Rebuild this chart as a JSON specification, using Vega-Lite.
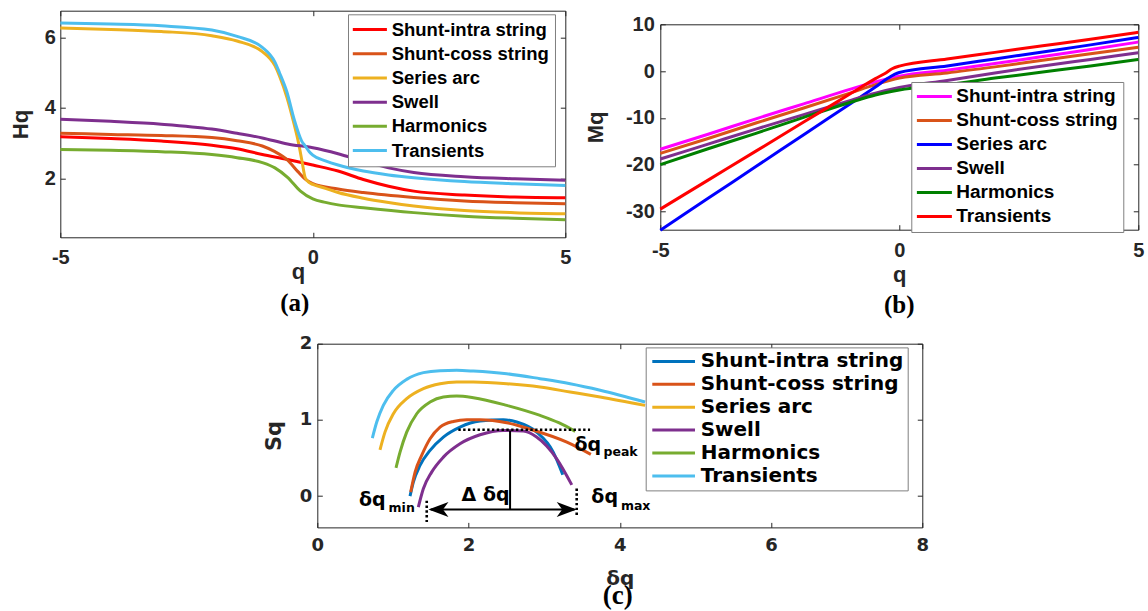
{
"$schema": "https://vega.github.io/schema/vega-lite/v6.json",
"background": "white",
"padding": {"left": 9.3, "top": 9.7, "right": 0, "bottom": 0},
"spacing": 14,
"resolve": {"scale": {"color": "independent", "shape": "independent"}, "legend": {"color": "independent"}},
"config": {
  "view": {"stroke": "#262626", "strokeWidth": 1},
  "axis": {"grid": false, "domain": false, "tickColor": "#262626", "tickSize": -5, "tickWidth": 1, "labelFlush": false, "labelOverlap": false, "labelColor": "#262626", "labelFont": "Liberation Sans", "labelFontWeight": "bold", "labelFontSize": 20, "titleColor": "#262626", "titleFont": "Liberation Sans", "titleFontWeight": "bold", "titleFontSize": 22},
  "legend": {"strokeColor": "#808080", "fillColor": "white", "labelColor": "black", "labelFontWeight": "bold", "symbolStrokeWidth": 3, "symbolSize": 100, "cornerRadius": 0, "labelLimit": 400},
  "title": {"font": "Liberation Serif", "fontWeight": "bold", "color": "black", "fontSize": 25, "baseline": "top"}
},
"datasets": {
  "a_data": [
    {"series":"Shunt-intra string","q":-5,"Hq":3.18},{"series":"Shunt-intra string","q":-4,"Hq":3.13},{"series":"Shunt-intra string","q":-3,"Hq":3.06},{"series":"Shunt-intra string","q":-2,"Hq":2.94},{"series":"Shunt-intra string","q":-1.5,"Hq":2.84},{"series":"Shunt-intra string","q":-1,"Hq":2.68},{"series":"Shunt-intra string","q":-0.5,"Hq":2.54},{"series":"Shunt-intra string","q":0,"Hq":2.38},{"series":"Shunt-intra string","q":0.5,"Hq":2.21},{"series":"Shunt-intra string","q":1,"Hq":1.97},{"series":"Shunt-intra string","q":1.5,"Hq":1.78},{"series":"Shunt-intra string","q":2,"Hq":1.64},{"series":"Shunt-intra string","q":3,"Hq":1.53},{"series":"Shunt-intra string","q":4,"Hq":1.47},{"series":"Shunt-intra string","q":5,"Hq":1.45},
    {"series":"Shunt-coss string","q":-5,"Hq":3.28},{"series":"Shunt-coss string","q":-4,"Hq":3.25},{"series":"Shunt-coss string","q":-3,"Hq":3.22},{"series":"Shunt-coss string","q":-2,"Hq":3.16},{"series":"Shunt-coss string","q":-1.5,"Hq":3.07},{"series":"Shunt-coss string","q":-1,"Hq":2.92},{"series":"Shunt-coss string","q":-0.75,"Hq":2.76},{"series":"Shunt-coss string","q":-0.5,"Hq":2.52},{"series":"Shunt-coss string","q":-0.3,"Hq":2.2},{"series":"Shunt-coss string","q":-0.15,"Hq":1.98},{"series":"Shunt-coss string","q":0,"Hq":1.85},{"series":"Shunt-coss string","q":0.5,"Hq":1.7},{"series":"Shunt-coss string","q":1,"Hq":1.6},{"series":"Shunt-coss string","q":2,"Hq":1.46},{"series":"Shunt-coss string","q":3,"Hq":1.36},{"series":"Shunt-coss string","q":4,"Hq":1.31},{"series":"Shunt-coss string","q":5,"Hq":1.28},
    {"series":"Series arc","q":-5,"Hq":6.27},{"series":"Series arc","q":-4,"Hq":6.23},{"series":"Series arc","q":-3,"Hq":6.17},{"series":"Series arc","q":-2,"Hq":6.05},{"series":"Series arc","q":-1.5,"Hq":5.9},{"series":"Series arc","q":-1,"Hq":5.6},{"series":"Series arc","q":-0.75,"Hq":5.2},{"series":"Series arc","q":-0.66,"Hq":4.91},{"series":"Series arc","q":-0.51,"Hq":4.29},{"series":"Series arc","q":-0.37,"Hq":3.54},{"series":"Series arc","q":-0.29,"Hq":3.06},{"series":"Series arc","q":-0.22,"Hq":2.54},{"series":"Series arc","q":-0.15,"Hq":2.02},{"series":"Series arc","q":-0.07,"Hq":1.88},{"series":"Series arc","q":0,"Hq":1.83},{"series":"Series arc","q":0.25,"Hq":1.72},{"series":"Series arc","q":0.5,"Hq":1.6},{"series":"Series arc","q":1,"Hq":1.44},{"series":"Series arc","q":1.5,"Hq":1.32},{"series":"Series arc","q":2,"Hq":1.22},{"series":"Series arc","q":3,"Hq":1.09},{"series":"Series arc","q":4,"Hq":1.03},{"series":"Series arc","q":5,"Hq":1.0},
    {"series":"Swell","q":-5,"Hq":3.68},{"series":"Swell","q":-4,"Hq":3.62},{"series":"Swell","q":-3,"Hq":3.54},{"series":"Swell","q":-2,"Hq":3.4},{"series":"Swell","q":-1.5,"Hq":3.28},{"series":"Swell","q":-1,"Hq":3.15},{"series":"Swell","q":-0.5,"Hq":2.98},{"series":"Swell","q":0,"Hq":2.87},{"series":"Swell","q":0.5,"Hq":2.7},{"series":"Swell","q":1,"Hq":2.49},{"series":"Swell","q":1.5,"Hq":2.3},{"series":"Swell","q":2,"Hq":2.17},{"series":"Swell","q":3,"Hq":2.05},{"series":"Swell","q":4,"Hq":1.99},{"series":"Swell","q":5,"Hq":1.95},
    {"series":"Harmonics","q":-5,"Hq":2.82},{"series":"Harmonics","q":-4,"Hq":2.8},{"series":"Harmonics","q":-3,"Hq":2.76},{"series":"Harmonics","q":-2,"Hq":2.68},{"series":"Harmonics","q":-1.5,"Hq":2.59},{"series":"Harmonics","q":-1,"Hq":2.45},{"series":"Harmonics","q":-0.75,"Hq":2.3},{"series":"Harmonics","q":-0.5,"Hq":2.03},{"series":"Harmonics","q":-0.25,"Hq":1.65},{"series":"Harmonics","q":0,"Hq":1.42},{"series":"Harmonics","q":0.25,"Hq":1.32},{"series":"Harmonics","q":0.5,"Hq":1.25},{"series":"Harmonics","q":1,"Hq":1.17},{"series":"Harmonics","q":2,"Hq":1.03},{"series":"Harmonics","q":3,"Hq":0.93},{"series":"Harmonics","q":4,"Hq":0.87},{"series":"Harmonics","q":5,"Hq":0.83},
    {"series":"Transients","q":-5,"Hq":6.41},{"series":"Transients","q":-4,"Hq":6.38},{"series":"Transients","q":-3,"Hq":6.33},{"series":"Transients","q":-2,"Hq":6.21},{"series":"Transients","q":-1.5,"Hq":6.03},{"series":"Transients","q":-1,"Hq":5.72},{"series":"Transients","q":-0.75,"Hq":5.3},{"series":"Transients","q":-0.66,"Hq":5.0},{"series":"Transients","q":-0.51,"Hq":4.44},{"series":"Transients","q":-0.37,"Hq":3.68},{"series":"Transients","q":-0.22,"Hq":3.06},{"series":"Transients","q":-0.15,"Hq":2.92},{"series":"Transients","q":-0.07,"Hq":2.76},{"series":"Transients","q":0,"Hq":2.66},{"series":"Transients","q":0.25,"Hq":2.5},{"series":"Transients","q":0.5,"Hq":2.38},{"series":"Transients","q":1,"Hq":2.21},{"series":"Transients","q":1.5,"Hq":2.1},{"series":"Transients","q":2,"Hq":2.02},{"series":"Transients","q":3,"Hq":1.91},{"series":"Transients","q":4,"Hq":1.85},{"series":"Transients","q":5,"Hq":1.8}
  ],
  "b_data": [
    {"series":"Shunt-intra string","q":-5,"Mq":-16.7},{"series":"Shunt-intra string","q":-4,"Mq":-13.5},{"series":"Shunt-intra string","q":-3,"Mq":-10.2},{"series":"Shunt-intra string","q":-2,"Mq":-7.0},{"series":"Shunt-intra string","q":-1,"Mq":-3.8},{"series":"Shunt-intra string","q":-0.5,"Mq":-2.3},{"series":"Shunt-intra string","q":0,"Mq":-1.1},{"series":"Shunt-intra string","q":1,"Mq":0.2},{"series":"Shunt-intra string","q":2,"Mq":1.6},{"series":"Shunt-intra string","q":3,"Mq":3.1},{"series":"Shunt-intra string","q":4,"Mq":4.6},{"series":"Shunt-intra string","q":5,"Mq":6.2},
    {"series":"Shunt-coss string","q":-5,"Mq":-17.6},{"series":"Shunt-coss string","q":-4,"Mq":-14.4},{"series":"Shunt-coss string","q":-3,"Mq":-11.1},{"series":"Shunt-coss string","q":-2,"Mq":-7.9},{"series":"Shunt-coss string","q":-1,"Mq":-4.6},{"series":"Shunt-coss string","q":-0.5,"Mq":-2.9},{"series":"Shunt-coss string","q":0,"Mq":-1.5},{"series":"Shunt-coss string","q":1,"Mq":-0.4},{"series":"Shunt-coss string","q":2,"Mq":0.9},{"series":"Shunt-coss string","q":3,"Mq":2.3},{"series":"Shunt-coss string","q":4,"Mq":3.7},{"series":"Shunt-coss string","q":5,"Mq":5.1},
    {"series":"Series arc","q":-5,"Mq":-34},{"series":"Series arc","q":-4,"Mq":-27.2},{"series":"Series arc","q":-3,"Mq":-20.4},{"series":"Series arc","q":-2,"Mq":-13.6},{"series":"Series arc","q":-1,"Mq":-6.8},{"series":"Series arc","q":-0.5,"Mq":-3.4},{"series":"Series arc","q":-0.25,"Mq":-1.6},{"series":"Series arc","q":-0.1,"Mq":-0.7},{"series":"Series arc","q":0,"Mq":-0.3},{"series":"Series arc","q":1,"Mq":1.1},{"series":"Series arc","q":2,"Mq":2.6},{"series":"Series arc","q":3,"Mq":4.1},{"series":"Series arc","q":4,"Mq":5.6},{"series":"Series arc","q":5,"Mq":7.2},
    {"series":"Swell","q":-5,"Mq":-18.8},{"series":"Swell","q":-4,"Mq":-15.6},{"series":"Swell","q":-3,"Mq":-12.4},{"series":"Swell","q":-2,"Mq":-9.3},{"series":"Swell","q":-1,"Mq":-6.2},{"series":"Swell","q":-0.5,"Mq":-4.7},{"series":"Swell","q":0,"Mq":-3.5},{"series":"Swell","q":1,"Mq":-2.0},{"series":"Swell","q":2,"Mq":-0.4},{"series":"Swell","q":3,"Mq":1.1},{"series":"Swell","q":4,"Mq":2.5},{"series":"Swell","q":5,"Mq":3.9},
    {"series":"Harmonics","q":-5,"Mq":-20.0},{"series":"Harmonics","q":-4,"Mq":-16.6},{"series":"Harmonics","q":-3,"Mq":-13.3},{"series":"Harmonics","q":-2,"Mq":-9.9},{"series":"Harmonics","q":-1,"Mq":-6.6},{"series":"Harmonics","q":-0.5,"Mq":-5.1},{"series":"Harmonics","q":0,"Mq":-4.05},{"series":"Harmonics","q":1,"Mq":-2.9},{"series":"Harmonics","q":2,"Mq":-1.5},{"series":"Harmonics","q":3,"Mq":-0.2},{"series":"Harmonics","q":4,"Mq":1.1},{"series":"Harmonics","q":5,"Mq":2.5},
    {"series":"Transients","q":-5,"Mq":-29.5},{"series":"Transients","q":-4,"Mq":-23.3},{"series":"Transients","q":-3,"Mq":-17.1},{"series":"Transients","q":-2,"Mq":-10.9},{"series":"Transients","q":-1,"Mq":-4.7},{"series":"Transients","q":-0.5,"Mq":-1.6},{"series":"Transients","q":-0.3,"Mq":-0.5},{"series":"Transients","q":-0.15,"Mq":0.5},{"series":"Transients","q":0,"Mq":1.06},{"series":"Transients","q":1,"Mq":2.6},{"series":"Transients","q":2,"Mq":4.0},{"series":"Transients","q":3,"Mq":5.4},{"series":"Transients","q":4,"Mq":6.8},{"series":"Transients","q":5,"Mq":8.3}
  ],
  "c_data": [
    {"series":"Shunt-intra string","dq":1.226,"Sq":0.0},{"series":"Shunt-intra string","dq":1.27,"Sq":0.184},{"series":"Shunt-intra string","dq":1.358,"Sq":0.403},{"series":"Shunt-intra string","dq":1.491,"Sq":0.6},{"series":"Shunt-intra string","dq":1.667,"Sq":0.775},{"series":"Shunt-intra string","dq":1.887,"Sq":0.906},{"series":"Shunt-intra string","dq":2.152,"Sq":0.985},{"series":"Shunt-intra string","dq":2.46,"Sq":1.002},{"series":"Shunt-intra string","dq":2.637,"Sq":0.972},{"series":"Shunt-intra string","dq":2.9,"Sq":0.84},{"series":"Shunt-intra string","dq":3.12,"Sq":0.578},{"series":"Shunt-intra string","dq":3.246,"Sq":0.28},
    {"series":"Shunt-coss string","dq":1.235,"Sq":0.053},{"series":"Shunt-coss string","dq":1.293,"Sq":0.315},{"series":"Shunt-coss string","dq":1.38,"Sq":0.534},{"series":"Shunt-coss string","dq":1.491,"Sq":0.753},{"series":"Shunt-coss string","dq":1.623,"Sq":0.906},{"series":"Shunt-coss string","dq":1.799,"Sq":0.98},{"series":"Shunt-coss string","dq":1.976,"Sq":1.002},{"series":"Shunt-coss string","dq":2.152,"Sq":1.002},{"series":"Shunt-coss string","dq":2.505,"Sq":0.963},{"series":"Shunt-coss string","dq":2.81,"Sq":0.88},{"series":"Shunt-coss string","dq":3.3,"Sq":0.709},{"series":"Shunt-coss string","dq":3.617,"Sq":0.548},
    {"series":"Series arc","dq":0.829,"Sq":0.608},{"series":"Series arc","dq":0.895,"Sq":0.84},{"series":"Series arc","dq":1.006,"Sq":1.081},{"series":"Series arc","dq":1.182,"Sq":1.278},{"series":"Series arc","dq":1.403,"Sq":1.41},{"series":"Series arc","dq":1.623,"Sq":1.475},{"series":"Series arc","dq":1.843,"Sq":1.497},{"series":"Series arc","dq":2.064,"Sq":1.497},{"series":"Series arc","dq":2.505,"Sq":1.475},{"series":"Series arc","dq":2.946,"Sq":1.431},{"series":"Series arc","dq":3.343,"Sq":1.366},{"series":"Series arc","dq":3.74,"Sq":1.3},{"series":"Series arc","dq":4.334,"Sq":1.19},
    {"series":"Swell","dq":1.336,"Sq":-0.144},{"series":"Swell","dq":1.402,"Sq":0.096},{"series":"Swell","dq":1.512,"Sq":0.315},{"series":"Swell","dq":1.667,"Sq":0.512},{"series":"Swell","dq":1.887,"Sq":0.687},{"series":"Swell","dq":2.152,"Sq":0.805},{"series":"Swell","dq":2.46,"Sq":0.862},{"series":"Swell","dq":2.725,"Sq":0.854},{"series":"Swell","dq":2.9,"Sq":0.775},{"series":"Swell","dq":3.166,"Sq":0.49},{"series":"Swell","dq":3.365,"Sq":0.148},
    {"series":"Harmonics","dq":1.041,"Sq":0.372},{"series":"Harmonics","dq":1.094,"Sq":0.578},{"series":"Harmonics","dq":1.182,"Sq":0.84},{"series":"Harmonics","dq":1.315,"Sq":1.081},{"series":"Harmonics","dq":1.491,"Sq":1.234},{"series":"Harmonics","dq":1.667,"Sq":1.3},{"series":"Harmonics","dq":1.843,"Sq":1.313},{"series":"Harmonics","dq":2.064,"Sq":1.291},{"series":"Harmonics","dq":2.505,"Sq":1.191},{"series":"Harmonics","dq":2.946,"Sq":1.059},{"series":"Harmonics","dq":3.2,"Sq":0.96},{"series":"Harmonics","dq":3.41,"Sq":0.85},
    {"series":"Transients","dq":0.728,"Sq":0.762},{"series":"Transients","dq":0.786,"Sq":0.972},{"series":"Transients","dq":0.873,"Sq":1.19},{"series":"Transients","dq":1.006,"Sq":1.388},{"series":"Transients","dq":1.182,"Sq":1.532},{"series":"Transients","dq":1.403,"Sq":1.62},{"series":"Transients","dq":1.623,"Sq":1.646},{"series":"Transients","dq":1.843,"Sq":1.65},{"series":"Transients","dq":2.064,"Sq":1.641},{"series":"Transients","dq":2.505,"Sq":1.606},{"series":"Transients","dq":2.946,"Sq":1.541},{"series":"Transients","dq":3.343,"Sq":1.475},{"series":"Transients","dq":3.74,"Sq":1.39},{"series":"Transients","dq":4.334,"Sq":1.234}
  ],
  "c_dotted": [
    {"dq":1.865,"Sq":0.87,"dq2":3.607,"Sq2":0.87},
    {"dq":1.447,"Sq":-0.06,"dq2":1.447,"Sq2":-0.34},
    {"dq":3.43,"Sq":0.1,"dq2":3.43,"Sq2":-0.25}
  ],
  "c_solid": [
    {"dq":2.549,"Sq":0.86,"dq2":2.549,"Sq2":-0.175},
    {"dq":1.5,"Sq":-0.175,"dq2":3.4,"Sq2":-0.175}
  ],
  "c_heads": [
    {"dq":1.47,"Sq":-0.175,"dir":"left"},
    {"dq":3.43,"Sq":-0.175,"dir":"right"}
  ],
  "c_text_main": [
    {"dq":2.225,"Sq":0.02,"label":"Δ δq"},
    {"dq":3.577,"Sq":0.676,"label":"δq"},
    {"dq":3.8,"Sq":-0.013,"label":"δq"},
    {"dq":0.728,"Sq":-0.056,"label":"δq"}
  ],
  "c_text_sub": [
    {"dq":4.01,"Sq":0.578,"label":"peak"},
    {"dq":4.21,"Sq":-0.13,"label":"max"},
    {"dq":1.116,"Sq":-0.157,"label":"min"}
  ]
},
"vconcat": [
  {
    "columns": 2,
    "align": "none",
    "spacing": 12,
    "resolve": {"scale": {"color": "independent"}, "legend": {"color": "independent"}},
    "concat": [
      {
        "width": 505, "height": 226.6,
        "data": {"name": "a_data"},
        "title": {"text": "(a)", "orient": "bottom", "offset": 7.8, "dx": -18},
        "layer": [
          {"mark": {"type": "line", "strokeWidth": 3, "interpolate": "monotone"},
           "encoding": {
             "x": {"field": "q", "type": "quantitative", "scale": {"domain": [-5, 5], "nice": false}, "axis": {"values": [-5, 0, 5], "title": "q", "titleX": 237.7, "labelPadding": 15.2, "titlePadding": -5.5, "labelExpr": "replace(datum.label, '−', '-')"}},
             "y": {"field": "Hq", "type": "quantitative", "scale": {"domain": [0.33, 6.76], "nice": false, "zero": false}, "axis": {"values": [2, 4, 6], "title": "Hq", "labelPadding": 10, "titlePadding": 11.2}},
             "color": {"field": "series", "type": "nominal",
               "scale": {"domain": ["Shunt-intra string","Shunt-coss string","Series arc","Swell","Harmonics","Transients"], "range": ["#FF0000","#D95319","#EDB120","#7E2F8E","#77AC30","#4DBEEE"]},
               "legend": {"title": null, "orient": "none", "legendX": 287.7, "legendY": 3.6, "padding": 6, "rowPadding": 5.2, "labelFontSize": 18.5, "labelFont": "Liberation Sans", "symbolType": "M -2.09 0 H 4.73", "labelOffset": 19.2}}
           }},
          {"mark": {"type": "line", "opacity": 0},
           "encoding": {
             "x": {"field": "q", "type": "quantitative", "axis": {"orient": "top", "values": [-5, 0, 5], "labels": false, "title": null}},
             "y": {"field": "Hq", "type": "quantitative", "axis": {"orient": "right", "values": [2, 4, 6], "labels": false, "title": null}}
           }}
        ],
        "resolve": {"axis": {"x": "independent", "y": "independent"}}
      },
      {
        "spacing": 1.6,
        "resolve": {"scale": {"color": "independent"}, "legend": {"color": "independent"}},
        "vconcat": [
          {"width": 1, "height": 1, "data": {"values": []}, "mark": "point", "view": {"stroke": null}},
          {
            "width": 478, "height": 205.4,
            "data": {"name": "b_data"},
            "title": {"text": "(b)", "orient": "bottom", "offset": 8.2},
            "layer": [
              {"mark": {"type": "line", "strokeWidth": 3, "interpolate": "monotone"},
               "encoding": {
                 "x": {"field": "q", "type": "quantitative", "scale": {"domain": [-5, 5], "nice": false}, "axis": {"values": [-5, 0, 5], "title": "q", "labelPadding": 15.8, "titlePadding": 3.8, "labelExpr": "replace(datum.label, '−', '-')"}},
                 "y": {"field": "Mq", "type": "quantitative", "scale": {"domain": [-33.9, 10], "nice": false, "zero": false}, "axis": {"values": [-30, -20, -10, 0, 10], "title": "Mq", "labelPadding": 11, "titlePadding": 17.5, "labelExpr": "replace(datum.label, '−', '-')"}},
                 "color": {"field": "series", "type": "nominal",
                   "scale": {"domain": ["Shunt-intra string","Shunt-coss string","Series arc","Swell","Harmonics","Transients"], "range": ["#FF00FF","#D95319","#0000FF","#7E2F8E","#008000","#FF0000"]},
                   "legend": {"title": null, "orient": "none", "legendX": 251, "legendY": 57.7, "padding": 5, "rowPadding": 4, "labelFontSize": 19, "labelFont": "Liberation Sans", "symbolType": "M -1.78 0 H 5.22", "labelOffset": 21}}
               }},
              {"mark": {"type": "line", "opacity": 0},
               "encoding": {
                 "x": {"field": "q", "type": "quantitative", "axis": {"orient": "top", "values": [-5, 0, 5], "labels": false, "title": null}},
                 "y": {"field": "Mq", "type": "quantitative", "axis": {"orient": "right", "values": [-30, -20, -10, 0, 10], "labels": false, "title": null}}
               }}
            ],
            "resolve": {"axis": {"x": "independent", "y": "independent"}}
          }
        ]
      }
    ]
  },
  {
    "spacing": 0,
    "resolve": {"scale": {"color": "independent", "shape": "independent"}, "legend": {"color": "independent"}},
    "hconcat": [
      {"width": 202.5, "height": 1, "data": {"values": []}, "mark": "point", "view": {"stroke": null}},
      {
        "width": 605, "height": 183.7,
        "title": {"text": "(c)", "orient": "bottom", "offset": -5.8, "fontSize": 27, "dx": -2},
        "layer": [
          {"data": {"name": "c_data"},
           "mark": {"type": "line", "strokeWidth": 3, "interpolate": "monotone"},
           "encoding": {
             "x": {"field": "dq", "type": "quantitative", "scale": {"domain": [0, 8], "nice": false}, "axis": {"values": [0, 2, 4, 6, 8], "title": "δq", "labelFont": "DejaVu Sans", "labelFontSize": 18, "titleFont": "DejaVu Sans", "titleFontSize": 20, "labelPadding": 13.9, "titlePadding": 14.5}},
             "y": {"field": "Sq", "type": "quantitative", "scale": {"domain": [-0.41, 2], "nice": false, "zero": false}, "axis": {"values": [0, 1, 2], "title": "Sq", "labelFont": "DejaVu Sans", "labelFontSize": 18, "titleFont": "DejaVu Sans", "titleFontSize": 21, "labelPadding": 10.6, "titlePadding": 14.2}},
             "color": {"field": "series", "type": "nominal",
               "scale": {"domain": ["Shunt-intra string","Shunt-coss string","Series arc","Swell","Harmonics","Transients"], "range": ["#0072BD","#D95319","#EDB120","#7E2F8E","#77AC30","#4DBEEE"]},
               "legend": {"title": null, "orient": "none", "legendX": 328.4, "legendY": 3.7, "padding": 4, "rowPadding": 2.9, "labelFontSize": 20, "labelFont": "DejaVu Sans", "symbolType": "M -1.48 0 H 7.06", "labelOffset": 31}}
           }},
          {"data": {"name": "c_data"},
           "mark": {"type": "line", "opacity": 0},
           "encoding": {
             "x": {"field": "dq", "type": "quantitative", "axis": {"orient": "top", "values": [0, 2, 4, 6, 8], "labels": false, "title": null}},
             "y": {"field": "Sq", "type": "quantitative", "axis": {"orient": "right", "values": [0, 1, 2], "labels": false, "title": null}}
           }},
          {"data": {"name": "c_dotted"},
           "mark": {"type": "rule", "color": "black", "strokeWidth": 2.6, "strokeDash": [2.4, 2.4]},
           "encoding": {
             "x": {"field": "dq", "type": "quantitative", "axis": null},
             "y": {"field": "Sq", "type": "quantitative", "axis": null},
             "x2": {"field": "dq2"},
             "y2": {"field": "Sq2"}
           }},
          {"data": {"name": "c_solid"},
           "mark": {"type": "rule", "color": "black", "strokeWidth": 2},
           "encoding": {
             "x": {"field": "dq", "type": "quantitative", "axis": null},
             "y": {"field": "Sq", "type": "quantitative", "axis": null},
             "x2": {"field": "dq2"},
             "y2": {"field": "Sq2"}
           }},
          {"data": {"name": "c_heads"},
           "mark": {"type": "point", "filled": true, "color": "black", "opacity": 1, "size": 400, "strokeWidth": 0},
           "encoding": {
             "x": {"field": "dq", "type": "quantitative", "axis": null},
             "y": {"field": "Sq", "type": "quantitative", "axis": null},
             "shape": {"field": "dir", "type": "nominal", "scale": {"domain": ["left", "right"], "range": ["M 0 0 L 2 -0.75 L 1.45 0 L 2 0.75 Z", "M 0 0 L -2 -0.75 L -1.45 0 L -2 0.75 Z"]}, "legend": null}
           }},
          {"data": {"name": "c_text_main"},
           "mark": {"type": "text", "font": "DejaVu Sans", "fontWeight": "bold", "fontSize": 19, "color": "black", "align": "center", "baseline": "middle"},
           "encoding": {
             "x": {"field": "dq", "type": "quantitative", "axis": null},
             "y": {"field": "Sq", "type": "quantitative", "axis": null},
             "text": {"field": "label"}
           }},
          {"data": {"name": "c_text_sub"},
           "mark": {"type": "text", "font": "DejaVu Sans", "fontWeight": "bold", "fontSize": 12.5, "color": "black", "align": "center", "baseline": "middle"},
           "encoding": {
             "x": {"field": "dq", "type": "quantitative", "axis": null},
             "y": {"field": "Sq", "type": "quantitative", "axis": null},
             "text": {"field": "label"}
           }}
        ],
        "resolve": {"axis": {"x": "independent", "y": "independent"}}
      }
    ]
  }
]
}
